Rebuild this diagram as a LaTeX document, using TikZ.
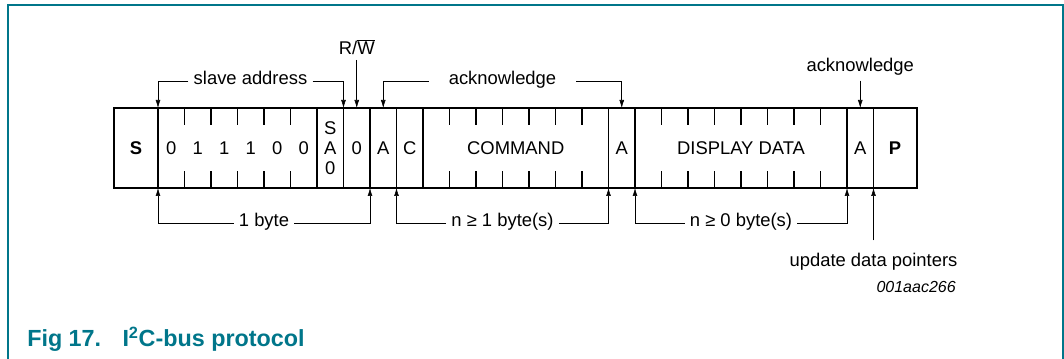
\documentclass[tikz,border=0pt]{standalone}
\usepackage{fontspec}
\setmainfont{Liberation Sans}
\usetikzlibrary{arrows.meta}
\definecolor{nxpteal}{RGB}{0,118,138}

\begin{document}
\begin{tikzpicture}
[x=0.75pt,y=-0.75pt,>={Latex[length=6pt,width=3.6pt]},
 every node/.style={font=\fontsize{13.8}{16}\selectfont},
 field/.style={inner sep=0pt},
 brace/.style={inner xsep=3.75pt,inner ysep=0pt,anchor=mid},
 edge/.style={line width=0.9pt},]

\useasboundingbox (0,0) rectangle (1064,359);
\draw[nxpteal,line width=1.5pt] (8,359) -- (8,5.5) -- (1063,5.5) -- (1063,359);

\def\ytop{108}
\def\ybot{188}
\def\cw{26.5}
% cell edges and cell centres, top and bottom
\foreach \k in {0,...,27}{
  \coordinate (t\k) at ({158+\cw*\k},\ytop);
  \coordinate (b\k) at ({158+\cw*\k},\ybot);
  \coordinate (m\k) at ({158+\cw*(\k+0.5)},\ytop);
}

\draw[edge] (114,\ytop) rectangle (917,\ybot);
\foreach \k in {0,6,7,8,9,10,17,18,26,27}
  \draw[edge] (t\k) -- (b\k);
\foreach \k in {1,2,3,4,5,11,12,13,14,15,16,19,20,21,22,23,24,25}{
  \draw[edge] (t\k) -- ++(0,17);
  \draw[edge] (b\k) -- ++(0,-17);
}

\node (S) at (136,148)[field]{\bfseries S};
\foreach \b [count=\k from 0] in {0,1,1,1,0,0}
  \node (bit\k) at ({158+\cw*(\k+0.5)},148)[field]{\b};
\node (SA) at ({158+\cw*6.5},148)[field,align=center,font=\fontsize{13.8}{15}\selectfont]{S\\A\\0};
\node (RWbit) at ({158+\cw*7.5},148)[field]{0};
\node (ackI) at ({158+\cw*8.5},148)[field]{A};
\node (C) at ({158+\cw*9.5},148)[field]{C};
\node (cmd) at ({158+\cw*13.5},148)[field]{COMMAND};
\node (ackII) at ({158+\cw*17.5},148)[field]{A};
\node (data) at ({158+\cw*22},148)[field]{DISPLAY DATA};
\node (ackIII) at ({158+\cw*26.5},148)[field]{A};
\node (P) at (895,148)[field]{\bfseries P};

% labels above
\node (slave) at (250.5,81)[brace]{slave address};
\draw[->] (slave.mid west) -| (t0);
\draw[->] (slave.mid east) -| (t7);
\node (rw) at ({158+\cw*7.5},55)[anchor=base]{R/$\overline{\hbox{W}}$};
\draw[->] (rw.south) -- (m7);
\node (ackA) at (502.5,81)[brace,inner xsep=15pt]{acknowledge};
\draw[->] (ackA.mid west) -| (m8);
\draw[->] (ackA.mid east) -| (m17);
\node (ackB) at ({158+\cw*26.5},72)[anchor=base]{acknowledge};
\draw[->] (ackB.south) -- (m26);

% labels below
\node (onebyte) at (264,223)[brace]{1 byte};
\draw[->] (onebyte.mid west) -| (b0);
\draw[->] (onebyte.mid east) -| (b8);
\node (cmdbytes) at (502.5,223)[brace]{n ≥ 1 byte(s)};
\draw[->] (cmdbytes.mid west) -| (b9);
\draw[->] (cmdbytes.mid east) -| (b17);
\node (databytes) at (741,223)[brace]{n ≥ 0 byte(s)};
\draw[->] (databytes.mid west) -| (b18);
\draw[->] (databytes.mid east) -| (b26);
\node (upd) at ({158+\cw*27},267)[anchor=base,inner ysep=0pt,outer ysep=10pt]{update data pointers};
\draw[->] (upd.north) -- (b27);
\node (docid) at (956,293)[anchor=base east,inner sep=0pt,font=\fontsize{12}{14}\selectfont\itshape]{001aac266};

\node (caption) at (27,347)[anchor=base west,inner sep=0pt,text=nxpteal,font=\fontsize{17.5}{20}\selectfont\bfseries]{Fig 17.\hspace{16pt}I\textsuperscript{2}C-bus protocol};

\end{tikzpicture}
\end{document}
